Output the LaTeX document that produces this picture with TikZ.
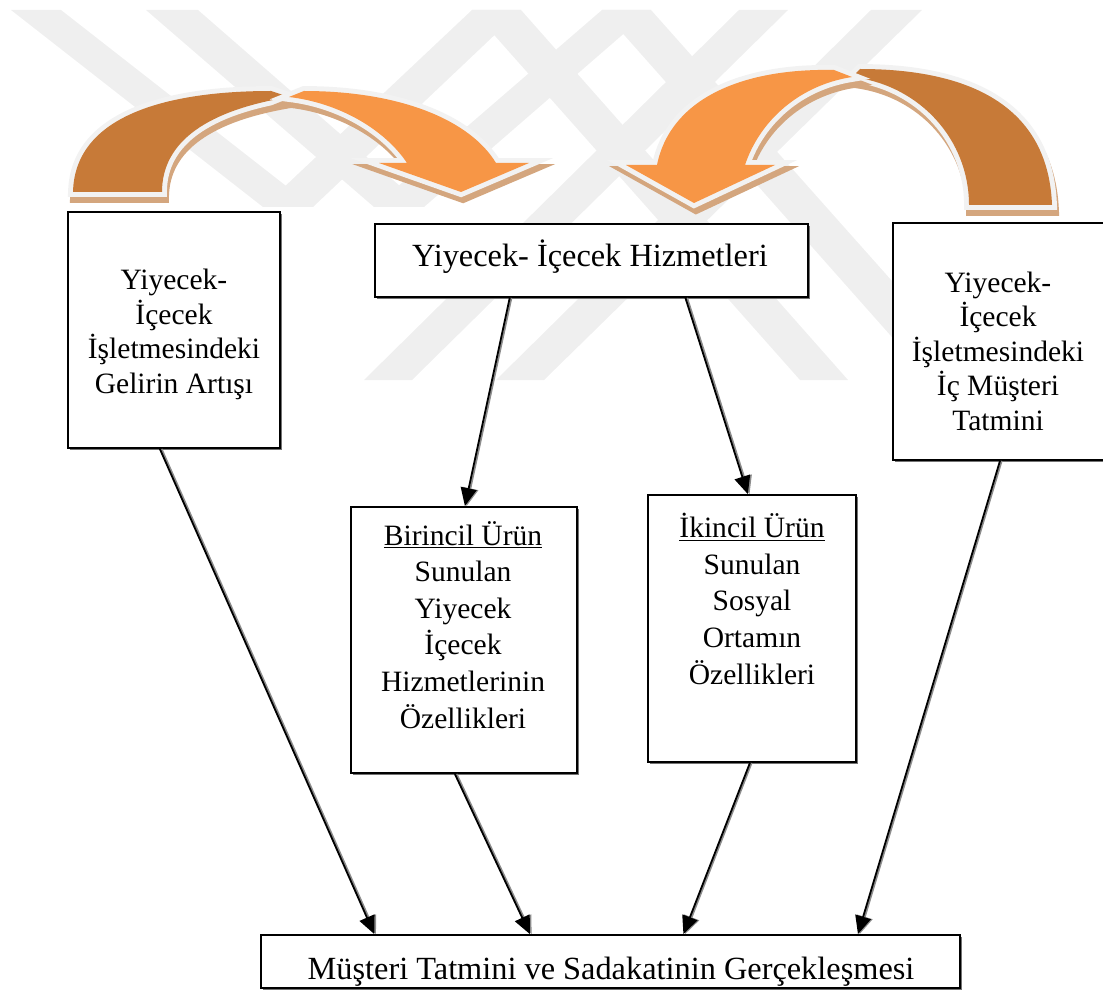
\documentclass[tikz,border=0pt]{standalone}
\usepackage{fontspec}
\setmainfont{Liberation Serif}
\usetikzlibrary{arrows.meta,calc,shadows}

\definecolor{kahve}{RGB}{199,122,56}
\definecolor{turuncu}{RGB}{247,150,70}
\definecolor{golge}{RGB}{212,166,126}
\definecolor{kenar}{RGB}{242,242,242}
\definecolor{filigran}{RGB}{239,239,239}

\tikzset{
  kutu/.style={draw, line width=1.3pt, fill=white, inner sep=0pt,
    drop shadow={shadow xshift=1.3pt, shadow yshift=-1.3pt, fill=black!55, opacity=1}},
  yazi/.style={align=center, anchor=base, inner sep=0pt, font=\fontsize{21}{24.5}\selectfont},
  genisyazi/.style={yazi, font=\fontsize{21}{26}\selectfont},
  buyukyazi/.style={yazi, font=\fontsize{23}{27}\selectfont},
  kol/.style={line width=1.3pt, -{Triangle[length=0.45cm,width=0.4cm]},
    preaction={draw=black!45, line width=1.3pt, transform canvas={xshift=1.2pt}}},
  parca/.style={preaction={draw=kenar, line width=7pt}},
  golgeli/.style={fill=golge, draw=golge, line width=7pt,
    transform canvas={xshift=0.05cm, yshift=-0.15cm}}
}

% egri oklarin parcalari (px)
\def\solkahve{(73,192) .. controls (75,110) and (180,91) .. (271,91) -- (289,97)
  .. controls (210,110) and (162,140) .. (162,192) -- cycle}
\def\solturuncu{(289,97) -- (304,91) .. controls (400,91) and (470,120) .. (496,163)
  -- (529,163) -- (461,192) -- (379,163) -- (407,163)
  .. controls (385,130) and (340,103) .. (289,97) -- cycle}
\def\sagkahve{(1052,205) .. controls (1048,100) and (960,69) .. (860,69) -- (852,77)
  .. controls (920,85) and (969,140) .. (969,205) -- cycle}
\def\sagturuncu{(852,77) -- (834,70) .. controls (740,68) and (670,100) .. (657,165)
  -- (626,165) -- (694,203) -- (775,165) -- (745,165)
  .. controls (760,120) and (800,85) .. (852,77) -- cycle}

\begin{document}
\begin{tikzpicture}[x=0.025cm, y=-0.025cm]
  \useasboundingbox (0,0) rectangle (1103,991);

  % filigran
  \foreach \a/\b/\c/\d in {11/263/61/313, 472/263/521/313, 146/374/198/424, 602/374/651/424}
    \fill[filigran] (\a,10) -- (\c,10) -- (\d,207) -- (\b,207) -- cycle;
  \foreach \a/\b/\c/\d in {739/364/788/412, 871/496/922/544, 472/800/521/848, 602/930/651/980}
    \fill[filigran] (\a,10) -- (\c,10) -- (\d,380) -- (\b,380) -- cycle;

  % egri oklar
  \fill[golgeli] \solkahve;
  \fill[kahve, parca] \solkahve;
  \fill[golgeli] \solturuncu;
  \fill[turuncu, parca] \solturuncu;
  \fill[golgeli] \sagkahve;
  \fill[kahve, parca] \sagkahve;
  \fill[golgeli] \sagturuncu;
  \fill[turuncu, parca] \sagturuncu;

  % kutular
  \node[kutu, minimum width=5.3cm, minimum height=5.9cm] (gelir) at (174,330) {};
  \node[kutu, minimum width=10.825cm, minimum height=1.825cm] (hizmet) at (591.5,260.5) {};
  \node[kutu, minimum width=5.425cm, minimum height=5.925cm] (ictatmin) at (1001.5,341.5) {};
  \node[kutu, minimum width=5.65cm, minimum height=6.65cm] (birincil) at (464,640) {};
  \node[kutu, minimum width=5.2cm, minimum height=6.675cm] (ikincil) at (752,628.5) {};
  \node[kutu, minimum width=17.475cm, minimum height=1.325cm] (sonuc) at (610.5,961.5) {};

  \node[yazi] (gelirY) at (174,393) {Yiyecek-\\İçecek\\İşletmesindeki\\Gelirin Artışı};
  \node[buyukyazi] (hizmetY) at (590,266) {Yiyecek- İçecek Hizmetleri};
  \node[yazi] (ictatminY) at (998,430) {Yiyecek-\\İçecek\\İşletmesindeki\\İç Müşteri\\Tatmini};
  \node[genisyazi] (birincilY) at (463,728)
    {\underline{Birincil Ürün}\\Sunulan\\Yiyecek\\İçecek\\Hizmetlerinin\\Özellikleri};
  \node[genisyazi] (ikincilY) at (752,684)
    {\underline{İkincil Ürün}\\Sunulan\\Sosyal\\Ortamın\\Özellikleri};
  \node[buyukyazi] (sonucY) at (611,979) {Müşteri Tatmini ve Sadakatinin Gerçekleşmesi};

  % oklar
  \draw[kol] ($(gelir.south west)!.434!(gelir.south east)$)
    -- ($(sonuc.north west)!.163!(sonuc.north east)$);
  \draw[kol] ($(hizmet.south west)!.312!(hizmet.south east)$)
    -- ($(birincil.north west)!.504!(birincil.north east)$);
  \draw[kol] ($(hizmet.south west)!.716!(hizmet.south east)$)
    -- ($(ikincil.north west)!.48!(ikincil.north east)$);
  \draw[kol] ($(birincil.south west)!.46!(birincil.south east)$)
    -- ($(sonuc.north west)!.385!(sonuc.north east)$);
  \draw[kol] ($(ikincil.south west)!.49!(ikincil.south east)$)
    -- ($(sonuc.north west)!.604!(sonuc.north east)$);
  \draw[kol] ($(ictatmin.south west)!.493!(ictatmin.south east)$)
    -- ($(sonuc.north west)!.853!(sonuc.north east)$);
\end{tikzpicture}
\end{document}
